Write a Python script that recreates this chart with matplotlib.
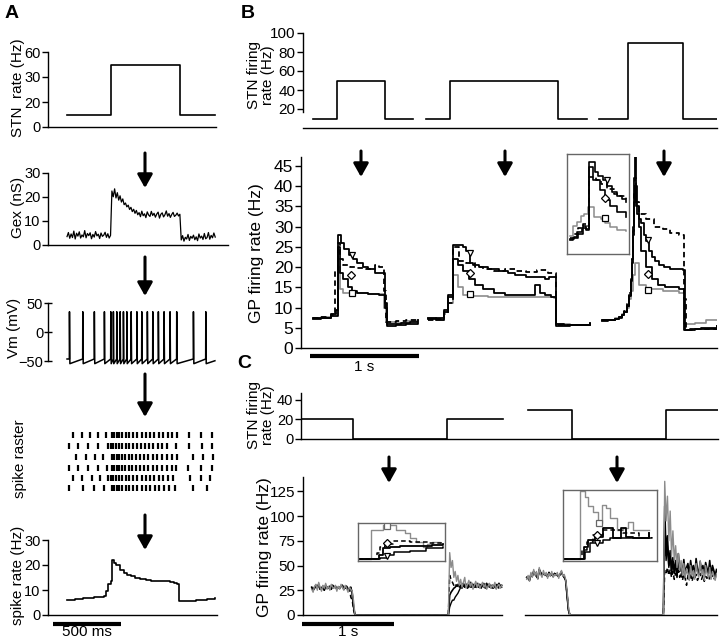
import numpy as np
import matplotlib
matplotlib.use("Agg")
import matplotlib.pyplot as plt

plt.rcParams['font.family'] = ['Liberation Sans', 'DejaVu Sans']

W, H = 720, 640
GRAY = '0.55'

# ---------------- panel A data (time in ms) ----------------
a_stn_t = [0, 320, 830, 1088]
a_stn_v = [10, 50, 10, 10]
a_stn_ticks = [0, 20, 40, 60]
a_stn_ticklabels = ['0', '20', '30', '60']

gex = [3.5, 5.2, 2.8, 4.6, 3.1, 5.8, 2.5, 4.9, 3.7, 5.5, 2.9, 4.2, 3.4, 6.0, 3.0, 4.8, 3.9,
       5.1, 2.6, 4.4, 3.3, 5.6, 3.8, 4.5, 2.7, 5.0, 3.6, 4.1, 5.3, 3.2, 4.7, 2.9, 4.0,
       22.5, 20.1, 23.4, 19.6, 21.8, 18.7, 20.5, 17.9, 19.2, 16.8, 17.5, 15.9, 16.6, 14.8,
       15.7, 13.9, 14.9, 13.2, 14.4, 12.6,
       13.5, 11.8, 14.1, 12.2, 13.0, 11.4, 13.8, 12.5, 11.9, 14.0, 12.3, 13.2, 11.6, 12.9,
       13.7, 11.2, 12.8, 13.4, 11.7, 12.6, 14.2, 12.0, 13.1, 11.5, 12.7, 13.6, 11.9, 12.4,
       13.3, 12.1, 12.8,
       2.1, 3.9, 1.6, 3.2, 2.5, 4.4, 1.9, 3.6, 2.8, 4.1, 2.2, 3.4, 1.8, 4.6, 2.9, 3.7, 2.3,
       4.8, 2.6, 3.1, 5.2, 2.4, 4.0, 3.0, 5.0, 3.3]
gex_t = np.arange(len(gex)) * 10

vm_spikes = [17, 115, 200, 274, 321, 340, 365, 390, 414, 439, 471, 513, 549, 590, 630,
             671, 713, 757, 806, 929, 1020]
vm_rest, vm_peak, vm_ahp = -46, 35, -54

raster = [
    [42, 108, 169, 225, 287, 328, 346, 365, 385, 407, 431, 458, 488, 517, 549, 581, 610, 642,
     674, 708, 740, 772, 806, 900, 983, 1064],
    [17, 83, 157, 225, 304, 321, 341, 360, 382, 407, 431, 456, 483, 512, 544, 574, 605, 635,
     667, 701, 733, 801, 900, 990, 1064],
    [66, 140, 206, 267, 328, 348, 365, 385, 407, 429, 453, 480, 507, 537, 566, 598, 630, 664,
     696, 733, 770, 806, 924, 1002, 1071],
    [17, 83, 157, 225, 292, 328, 346, 365, 385, 404, 429, 453, 480, 507, 537, 566, 598, 630,
     664, 696, 733, 770, 801, 892, 983, 1064],
    [42, 108, 181, 243, 304, 321, 341, 360, 382, 407, 431, 458, 488, 517, 549, 581, 610, 642,
     674, 708, 745, 782, 904, 983, 1051],
    [17, 115, 199, 272, 328, 346, 365, 385, 407, 431, 458, 488, 517, 549, 581, 610, 647, 679,
     713, 752, 794, 924, 1027],
]

rate_t = [0, 60, 120, 200, 270, 285, 300, 320, 328, 345, 360, 390, 420, 440, 470, 500, 540,
          580, 620, 680, 730, 760, 790, 810, 820, 870, 950, 1030, 1088]
rate_v = [6.0, 6.5, 7.0, 7.3, 7.5, 9.5, 12.5, 13.5, 22, 21, 20, 18, 17, 16, 15.5, 15, 14.5,
          14, 13.8, 13.5, 13.5, 13.2, 12.8, 12.5, 5.5, 5.5, 6, 6.5, 7]

# ---------------- panel B data (time in s) ----------------
b_stn = [
    ([0.09, 0.31, 0.75, 1.01], [10, 50, 10, 10]),
    ([1.13, 1.35, 2.34, 2.61], [10, 50, 10, 10]),
    ([2.72, 2.98, 3.49, 3.80], [10, 90, 10, 10]),
]

# trace "tri" (solid), "dash", "dia" (solid), "sq" (gray); three segments each
b_tri = [
    ([0.09, 0.17, 0.26, 0.30, 0.32, 0.35, 0.38, 0.42, 0.46, 0.50, 0.55, 0.60, 0.66, 0.72, 0.75,
      0.77, 0.82, 0.90, 0.98, 1.06],
     [7.3, 7.5, 8.3, 9.5, 28.0, 26.0, 24.5, 23.0, 22.0, 21.0, 20.0, 19.5, 18.5, 18.5, 10.0,
      6.0, 6.0, 6.2, 6.5, 6.8]),
    ([1.15, 1.22, 1.29, 1.33, 1.38, 1.47, 1.50, 1.53, 1.56, 1.62, 1.70, 1.80, 1.88, 1.95, 2.05,
      2.15, 2.22, 2.26, 2.32, 2.40, 2.50, 2.63],
     [7.3, 7.0, 9.0, 12.5, 25.5, 25.0, 24.0, 21.0, 20.5, 20.0, 19.5, 19.0, 18.5, 18.0, 17.5,
      17.5, 17.0, 17.5, 6.0, 5.7, 5.8, 6.2]),
    ([2.74, 2.80, 2.86, 2.90, 2.93, 2.95, 2.97, 2.99, 3.01, 3.02, 3.03, 3.04, 3.05, 3.06, 3.07,
      3.08, 3.10, 3.13, 3.15, 3.18, 3.20, 3.23, 3.27, 3.31, 3.37, 3.43, 3.49, 3.51, 3.55, 3.65,
      3.80],
     [6.8, 6.9, 7.2, 7.6, 8.2, 9.0, 10.5, 13, 17, 22, 30, 42, 48, 40, 33, 32, 31, 28, 26.5,
      24, 22.5, 21.5, 20.5, 20, 19.5, 19.5, 19.3, 4.5, 4.6, 5.0, 5.5]),
]
b_dash = [
    ([0.09, 0.17, 0.26, 0.29, 0.32, 0.34, 0.37, 0.43, 0.50, 0.58, 0.66, 0.70, 0.74, 0.76, 0.78,
      0.85, 0.95, 1.06],
     [7.5, 7.6, 8.2, 19.0, 26.0, 22.0, 20.5, 20.0, 19.8, 19.5, 20.5, 20.0, 14.0, 6.5, 6.5,
      6.6, 6.8, 7.0]),
    ([1.15, 1.22, 1.29, 1.33, 1.38, 1.43, 1.50, 1.58, 1.65, 1.75, 1.85, 1.95, 2.05, 2.15, 2.25,
      2.32, 2.40, 2.63],
     [7.0, 7.2, 8.5, 11.0, 25.0, 21.5, 21.0, 20.0, 19.5, 19.0, 19.5, 19.0, 18.8, 19.2, 18.5,
      5.8, 5.6, 6.0]),
    ([2.74, 2.80, 2.86, 2.90, 2.93, 2.95, 2.97, 2.99, 3.01, 3.02, 3.03, 3.04, 3.05, 3.06, 3.08,
      3.15, 3.22, 3.30, 3.37, 3.45, 3.50, 3.52, 3.60, 3.80],
     [6.9, 7.0, 7.3, 7.7, 8.3, 9.2, 10.8, 13.5, 17, 22, 29, 38, 42, 36, 33, 32, 30, 29.5,
      28.5, 28, 12, 4.5, 4.8, 5.6]),
]
b_dia = [
    ([0.09, 0.17, 0.26, 0.32, 0.34, 0.37, 0.41, 0.45, 0.50, 0.60, 0.70, 0.75, 0.77, 0.85, 0.95,
      1.06],
     [7.2, 7.4, 8.0, 25.0, 18.5, 17.0, 15.0, 14.0, 13.5, 13.3, 13.2, 11.0, 5.5, 5.7, 6.0, 6.3]),
    ([1.15, 1.22, 1.29, 1.33, 1.38, 1.42, 1.47, 1.52, 1.58, 1.65, 1.75, 1.85, 1.98, 2.13, 2.18,
      2.22, 2.28, 2.32, 2.45, 2.63],
     [7.2, 7.5, 9.5, 13.0, 22.0, 20.5, 19.0, 17.0, 15.5, 14.5, 13.5, 13.2, 13.0, 15.5, 13.5,
      13.0, 12.5, 5.5, 5.7, 6.0]),
    ([2.74, 2.80, 2.86, 2.90, 2.93, 2.95, 2.97, 2.99, 3.01, 3.02, 3.03, 3.04, 3.05, 3.06, 3.08,
      3.10, 3.15, 3.20, 3.26, 3.32, 3.45, 3.50, 3.60, 3.80],
     [6.7, 6.8, 7.1, 7.5, 8.1, 8.9, 10.3, 12.8, 16.5, 21, 28, 36, 40, 35, 30, 24, 20, 17,
      15.5, 15, 14.5, 4.4, 4.8, 5.5]),
]
b_sq = [
    ([0.09, 0.17, 0.26, 0.32, 0.34, 0.37, 0.45, 0.60, 0.74, 0.76, 0.85, 0.95, 1.06],
     [7.4, 7.7, 8.5, 20.0, 14.5, 13.6, 13.5, 13.4, 10.0, 6.5, 6.3, 6.6, 7.0]),
    ([1.15, 1.22, 1.29, 1.33, 1.38, 1.42, 1.47, 1.52, 1.70, 2.00, 2.30, 2.32, 2.45, 2.63],
     [7.5, 7.0, 9.0, 11.0, 18.0, 15.0, 13.0, 12.8, 12.7, 12.6, 12.4, 6.0, 5.8, 6.3]),
    ([2.74, 2.80, 2.86, 2.90, 2.93, 2.95, 2.97, 2.99, 3.01, 3.03, 3.05, 3.08, 3.15, 3.30, 3.45,
      3.50, 3.60, 3.70, 3.80],
     [6.9, 7.0, 7.3, 7.7, 8.3, 9.0, 10.0, 12, 14, 18, 21, 15.5, 14.5, 14.0, 13.5, 6.0, 6.3,
      6.8, 7.0]),
]
b_tri_mk = ([0.446, 1.53, 3.17], [23.0, 23.4, 26.7])
b_dia_mk = ([0.44, 1.53, 3.17], [18.1, 18.5, 18.3])
b_sq_mk = ([0.446, 1.53, 3.17], [13.7, 13.3, 14.4])

# inset of B (normalised units)
bi_tri = ([0.05, 0.11, 0.16, 0.24, 0.30, 0.35, 0.45, 0.50, 0.58, 0.64, 0.72, 0.80, 0.88, 0.95],
          [0.15, 0.17, 0.22, 0.26, 0.25, 0.92, 0.82, 0.78, 0.74, 0.68, 0.62, 0.58, 0.55, 0.52])
bi_dash = ([0.05, 0.12, 0.18, 0.26, 0.33, 0.36, 0.47, 0.55, 0.65, 0.75, 0.85, 0.95],
           [0.16, 0.20, 0.26, 0.30, 0.28, 0.77, 0.74, 0.70, 0.65, 0.60, 0.58, 0.55])
bi_dia = ([0.05, 0.10, 0.17, 0.25, 0.31, 0.35, 0.42, 0.53, 0.62, 0.70, 0.80, 0.95],
          [0.14, 0.16, 0.20, 0.28, 0.24, 0.87, 0.74, 0.64, 0.54, 0.48, 0.42, 0.37])
bi_sq = ([0.05, 0.10, 0.16, 0.22, 0.28, 0.34, 0.43, 0.55, 0.62, 0.70, 0.80, 0.95],
         [0.18, 0.28, 0.32, 0.38, 0.40, 0.47, 0.37, 0.35, 0.31, 0.27, 0.24, 0.23])
bi_mk = {'v': (0.64, 0.74), 'D': (0.61, 0.56), 's': (0.61, 0.36)}

# ---------------- panel C data (time in s) ----------------
c_stn = [
    ([-0.02, 0.55, 1.575, 2.18], [20, 0, 20, 20]),
    ([2.45, 2.93, 3.96, 4.53], [30, 0, 30, 30]),
]
c_left_pre = (0.095, 0.567)
c_left_post = (1.585, 2.167)
c_right_pre = (2.44, 2.91)
c_right_post = (3.93, 4.51)
c_axis_right = [2.42, 4.51]

cl_pre = {
    'gray': [26, 23, 29, 31, 25, 33, 28, 24, 30, 27, 32, 26, 29, 25, 31, 28, 27, 30, 24, 29, 26,
             31, 28, 25, 30, 27, 23, 28, 26, 24, 14, 0],
    'black': [28, 25, 27, 30, 28, 31, 26, 27, 29, 25, 30, 28, 27, 29, 26, 30, 28, 29, 26, 28, 27,
              29, 30, 26, 28, 29, 25, 27, 28, 22, 8, 0],
    'dash': [27, 26, 28, 29, 27, 30, 27, 26, 28, 27, 29, 27, 28, 28, 27, 29, 27, 28, 27, 27, 28,
             28, 29, 27, 27, 28, 26, 27, 18, 15, 5, 0],
}
cl_post = {
    'gray': [0, 63, 48, 55, 38, 44, 34, 40, 30, 36, 28, 33, 38, 27, 31, 35, 29, 33, 26, 30, 34,
             28, 32, 27, 30, 33, 28, 31, 26, 29, 32, 27, 30, 28, 33, 26, 29, 31, 27, 30],
    'dash': [0, 40, 36, 33, 30, 32, 29, 31, 28, 30, 29, 31, 28, 30, 27, 29, 31, 28, 30, 29, 27,
             30, 28, 31, 29, 28, 30, 27, 29, 31, 28, 30, 27, 29, 28, 30, 29, 27, 30, 28],
    'black': [0, 20, 23, 25, 27, 28, 30, 29, 31, 28, 30, 32, 29, 31, 28, 30, 33, 29, 31, 28, 30,
              32, 28, 30, 29, 31, 28, 30, 32, 29, 31, 28, 30, 29, 31, 27, 30, 32, 29, 30],
    'black2': [0, 8, 12, 15, 15, 18, 20, 22, 25, 28, 27, 30, 28, 31, 29, 30, 28, 32, 29, 31, 28,
               30, 29, 31, 27, 30, 32, 28, 30, 29, 31, 28, 30, 27, 29, 31, 28, 30, 29, 28],
}
cr_pre = {
    'gray': [36, 40, 34, 43, 38, 46, 40, 44, 36, 48, 41, 38, 45, 40, 43, 37, 42, 39, 44, 38, 41,
             40, 43, 37, 42, 45, 39, 41, 36, 25, 8, 0],
    'black': [38, 37, 35, 41, 40, 44, 42, 39, 37, 46, 43, 40, 42, 41, 40, 39, 43, 40, 41, 39, 42,
              41, 40, 39, 41, 43, 40, 38, 35, 20, 5, 0],
    'dash': [37, 38, 36, 40, 39, 43, 41, 40, 38, 45, 42, 40, 43, 40, 41, 38, 42, 40, 42, 39, 41,
             40, 41, 38, 41, 44, 40, 39, 34, 22, 6, 0],
}
cr_post = {
    'gray': [0, 135, 95, 120, 75, 105, 60, 85, 55, 70, 48, 62, 45, 55, 40, 52, 38, 47, 42, 35,
             50, 40, 45, 36, 52, 42, 38, 55, 40, 46, 35, 50, 42, 38, 48, 36, 44, 40, 35, 42],
    'dash': [0, 45, 42, 48, 40, 46, 38, 44, 36, 42, 40, 45, 38, 43, 35, 41, 37, 30, 40, 36, 42,
             34, 39, 37, 41, 35, 38, 42, 36, 40, 34, 39, 37, 41, 35, 38, 40, 36, 39, 37],
    'black2': [0, 90, 55, 70, 48, 60, 42, 52, 45, 50, 40, 55, 46, 48, 43, 52, 40, 46, 50, 42, 48,
               45, 47, 40, 50, 44, 42, 49, 44, 47, 41, 50, 45, 43, 49, 40, 46, 44, 40, 45],
    'black': [0, 110, 60, 80, 50, 65, 45, 58, 42, 55, 38, 62, 44, 50, 40, 56, 42, 48, 52, 40, 55,
              44, 50, 38, 57, 46, 42, 54, 45, 50, 40, 53, 47, 42, 55, 40, 50, 45, 38, 46],
}

# insets of C (normalised units)
cli = {
    'gray': ([0.0, 0.145, 0.29, 0.44, 0.54, 0.60, 0.67, 0.75, 0.79, 0.85, 0.94],
             [0.05, 0.82, 0.96, 0.82, 0.73, 0.60, 0.50, 0.38, 0.45, 0.50, 0.48]),
    'dash': ([0.0, 0.22, 0.25, 0.31, 0.40, 0.60, 0.80, 0.96],
             [0.05, 0.20, 0.38, 0.45, 0.52, 0.50, 0.48, 0.47]),
    'black': ([0.0, 0.24, 0.29, 0.37, 0.48, 0.70, 0.85, 0.98],
              [0.05, 0.16, 0.33, 0.38, 0.40, 0.40, 0.42, 0.45]),
    'black2': ([0.0, 0.25, 0.33, 0.41, 0.60, 0.78, 0.98],
               [0.05, 0.07, 0.16, 0.25, 0.27, 0.33, 0.36]),
}
cli_mk = {'s': (0.33, 0.92), 'D': (0.33, 0.48), 'v': (0.33, 0.12)}
cri = {
    'gray': ([0.0, 0.18, 0.235, 0.27, 0.32, 0.37, 0.42, 0.46, 0.50, 0.57, 0.64, 0.69, 0.74, 0.92],
             [0.03, 0.98, 0.90, 0.77, 0.69, 0.53, 0.79, 0.75, 0.60, 0.44, 0.46, 0.55, 0.44, 0.44]),
    'dash': ([0.0, 0.20, 0.25, 0.32, 0.43, 0.64, 0.81, 0.95],
             [0.03, 0.15, 0.27, 0.37, 0.44, 0.39, 0.32, 0.37]),
    'black': ([0.0, 0.22, 0.27, 0.34, 0.43, 0.53, 0.62, 0.67, 0.74, 0.81, 0.92],
              [0.03, 0.20, 0.30, 0.34, 0.46, 0.32, 0.46, 0.34, 0.32, 0.32, 0.39]),
    'black2': ([0.0, 0.23, 0.29, 0.43, 0.50, 0.92],
               [0.03, 0.13, 0.25, 0.30, 0.32, 0.39]),
}
cri_mk = {'s': (0.38, 0.54), 'D': (0.36, 0.37), 'v': (0.36, 0.26)}

# ---------------- drawing ----------------
fig = plt.figure(figsize=(W / 100, H / 100), dpi=100)


def box(x0, y0, x1, y1):
    return fig.add_axes([x0 / W, 1 - y1 / H, (x1 - x0) / W, (y1 - y0) / H])


def style(ax, fs=10.5, bottom=True):
    for s in ['top', 'right']:
        ax.spines[s].set_visible(False)
    ax.spines['bottom'].set_visible(bottom)
    ax.spines['left'].set_linewidth(1.0)
    ax.spines['bottom'].set_linewidth(1.0)
    ax.set_xticks([])
    ax.tick_params(axis='y', labelsize=fs, length=4, width=1.0, pad=1.5)
    ax.patch.set_alpha(0)


def ylabel(x, y, s, fs=11):
    fig.text(x / W, 1 - y / H, s, rotation=90, ha='center', va='center', fontsize=fs,
             linespacing=1.0)


def scalebar(ax, x0, length, ypos, text, text_y):
    tr = ax.get_xaxis_transform()
    ax.plot([x0, x0 + length], [ypos, ypos], color='k', lw=3, transform=tr, clip_on=False,
            solid_capstyle='butt')
    fig.text(ax.transData.transform((x0 + length / 2, 0))[0] / W, 1 - text_y / H, text,
             ha='center', va='center', fontsize=11)


A_XLIM = (-140, 1096)

# A1 STN rate
ax = box(48, 52, 216, 127)
style(ax)
ax.plot(a_stn_t, a_stn_v, drawstyle='steps-post', color='k', lw=1.2)
ax.set_ylim(0, 60)
ax.set_xlim(*A_XLIM)
ax.set_yticks(a_stn_ticks)
ax.set_yticklabels(a_stn_ticklabels)
ylabel(18, 88, 'STN  rate (Hz)')

# A2 Gex
ax = box(48, 173, 228, 245)
style(ax)
ax.plot(gex_t, gex, color='k', lw=0.9)
ax.set_ylim(0, 30)
ax.set_xlim(-140, 1184)
ax.set_yticks([0, 10, 20, 30])
ylabel(18, 207, 'Gex (nS)')

# A3 Vm
ax = box(48, 303, 216, 366)
style(ax, bottom=False)
vt, vv = [0], [vm_rest]
for s in vm_spikes:
    vt += [s, s + 1, s + 4]
    vv += [vm_rest, vm_peak, vm_ahp]
vt.append(1088)
vv.append(vm_rest - 3)
ax.plot(vt, vv, color='k', lw=1.1)
ax.set_ylim(-58, 50)
ax.set_xlim(*A_XLIM)
ax.spines['left'].set_bounds(-50, 50)
ax.set_yticks([-50, 0, 50])
ax.tick_params(axis='y', direction='inout', length=6, pad=0.5)
ylabel(14, 328, 'Vm (mV)')

# A4 raster
ax = box(48, 428, 216, 494)
ax.eventplot(raster, lineoffsets=[59, 48, 37, 26, 16, 6], linelengths=6.5, colors='k',
             linewidths=1.6)
ax.set_xlim(*A_XLIM)
ax.set_ylim(0, 66)
ax.axis('off')
ylabel(20, 459, 'spike raster')

# A5 spike rate
ax = box(48, 540, 217, 615)
style(ax)
ax.plot(rate_t, rate_v, drawstyle='steps-post', color='k', lw=1.2)
ax.set_ylim(0, 30)
ax.set_xlim(-140, 1103)
ax.set_yticks([0, 10, 20, 30])
ylabel(18, 575, 'spike rate (Hz)')
scalebar(ax, -103, 500, -0.12, '500 ms', 632)

# B top: STN
ax = box(303, 33, 717, 128)
style(ax, fs=11)
for t, v in b_stn:
    ax.plot(t, v, drawstyle='steps-post', color='k', lw=1.2)
ax.set_ylim(0, 100)
ax.set_xlim(0, 3.80)
ax.set_yticks([20, 40, 60, 80, 100])
ax.spines['left'].set_bounds(17, 100)
ylabel(261, 75, 'STN firing\nrate (Hz)', fs=11)

# B bottom: GP
ax = box(301, 157, 717, 348)
style(ax, fs=12.5)
for t, v in b_sq:
    ax.plot(t, v, drawstyle='steps-post', color=GRAY, lw=1.2)
for t, v in b_dia:
    ax.plot(t, v, drawstyle='steps-post', color='k', lw=1.3)
for t, v in b_dash:
    ax.plot(t, v, drawstyle='steps-post', color='k', lw=1.3, ls=(0, (3, 2)))
for t, v in b_tri:
    ax.plot(t, v, drawstyle='steps-post', color='k', lw=1.3)
mk = dict(ls='none', mfc='white', mew=0.9, ms=5, zorder=5)
ax.plot(*b_tri_mk, marker='v', mec='k', **mk)
ax.plot(*b_dia_mk, marker='D', mec='k', **dict(mk, ms=4.5))
ax.plot(*b_sq_mk, marker='s', mec='k', **dict(mk, ms=4.5))
ax.set_ylim(0, 47.2)
ax.set_xlim(-0.018, 3.80)
ax.set_yticks(range(0, 46, 5))
ylabel(257, 253, 'GP firing rate (Hz)', fs=12.5)
scalebar(ax, 0.064, 1.0, -0.042, '1 s', 367)

# B inset
ax = box(567, 154, 629, 254)
ax.set_xticks([])
ax.set_yticks([])
for s in ax.spines.values():
    s.set_color('0.4')
    s.set_linewidth(1.0)
ax.plot(*bi_sq, drawstyle='steps-post', color=GRAY, lw=1.1)
ax.plot(*bi_dia, drawstyle='steps-post', color='k', lw=1.2)
ax.plot(*bi_dash, drawstyle='steps-post', color='k', lw=1.2, ls=(0, (3, 2)))
ax.plot(*bi_tri, drawstyle='steps-post', color='k', lw=1.2)
for m, (x, y) in bi_mk.items():
    ax.plot([x], [y], marker=m, mec='k', **dict(mk, ms=4))
ax.set_xlim(0, 1)
ax.set_ylim(0, 1)

# C top: STN
ax = box(301, 393, 718, 439)
style(ax, fs=10.5)
for t, v in c_stn:
    ax.plot(t, v, drawstyle='steps-post', color='k', lw=1.2)
ax.set_ylim(0, 47)
ax.set_xlim(-0.022, 4.526)
ax.set_yticks([0, 20, 40])
ylabel(261, 415, 'STN firing\nrate (Hz)', fs=11)

# C bottom: GP
ax = box(303, 477, 717, 615)
style(ax, fs=11)
ax.spines['bottom'].set_bounds(0, 2.17)
ax.plot(c_axis_right, [0, 0], color='k', lw=1.0, clip_on=False)


def c_trace(ax, pre, post, pre_rng, post_rng, key, **kw):
    vp = list(pre[key]) if key in pre else list(pre['black'])
    tp = list(np.linspace(pre_rng[0], pre_rng[1], len(vp)))
    tq = list(np.linspace(post_rng[0], post_rng[1], len(post[key])))
    ax.plot(tp + tq, vp + list(post[key]), **kw)


for pre, post, r1, r2 in [(cl_pre, cl_post, c_left_pre, c_left_post),
                          (cr_pre, cr_post, c_right_pre, c_right_post)]:
    c_trace(ax, pre, post, r1, r2, 'black2', color='k', lw=1.0)
    c_trace(ax, pre, post, r1, r2, 'black', color='k', lw=1.2)
    c_trace(ax, pre, post, r1, r2, 'dash', color='k', lw=1.1, ls=(0, (3, 2)))
    c_trace(ax, pre, post, r1, r2, 'gray', color=GRAY, lw=1.0)
ax.set_ylim(0, 139.4)
ax.set_xlim(0, 4.515)
ax.set_yticks([0, 25, 50, 75, 100, 125])
ylabel(264, 547, 'GP firing rate (Hz)', fs=12.5)
scalebar(ax, -0.01, 1.0, -0.065, '1 s', 632)

# C insets
for bx, data, mks in [((358, 523, 445, 561), cli, cli_mk), ((563, 490, 657, 561), cri, cri_mk)]:
    ax = box(*bx)
    ax.set_xticks([])
    ax.set_yticks([])
    for s in ax.spines.values():
        s.set_color('0.4')
        s.set_linewidth(1.0)
    ax.plot(*data['gray'], drawstyle='steps-post', color=GRAY, lw=1.0)
    ax.plot(*data['black2'], drawstyle='steps-post', color='k', lw=1.1)
    ax.plot(*data['black'], drawstyle='steps-post', color='k', lw=1.3)
    ax.plot(*data['dash'], drawstyle='steps-post', color='k', lw=1.1, ls=(0, (3, 2)))
    for m, (x, y) in mks.items():
        ax.plot([x], [y], marker=m, mec='k' if m != 's' else '0.4', **dict(mk, ms=4))
    ax.set_xlim(0, 1)
    ax.set_ylim(0, 1)

# overlay: arrows and panel letters (figure pixels)
ov = fig.add_axes([0, 0, 1, 1])
ov.set_xlim(0, W)
ov.set_ylim(H, 0)
ov.axis('off')
arrows = [(145, 153, 188), (145, 257, 296), (145, 374, 417), (145, 515, 550),
          (361, 151, 177), (505, 151, 177), (664, 151, 177),
          (389, 457, 483), (617, 457, 483)]
for x, y0, y1 in arrows:
    ov.annotate('', xy=(x, y1), xytext=(x, y0),
                arrowprops=dict(arrowstyle='-|>,head_length=0.8,head_width=0.45', lw=2.2,
                                color='k', shrinkA=0, shrinkB=0, mutation_scale=10))
for s, x, y in [('A', 12, 13), ('B', 248, 13), ('C', 244, 363)]:
    ov.text(x, y, s, fontsize=14, fontweight='bold', ha='center', va='center')

fig.savefig('out.png', dpi=100)
